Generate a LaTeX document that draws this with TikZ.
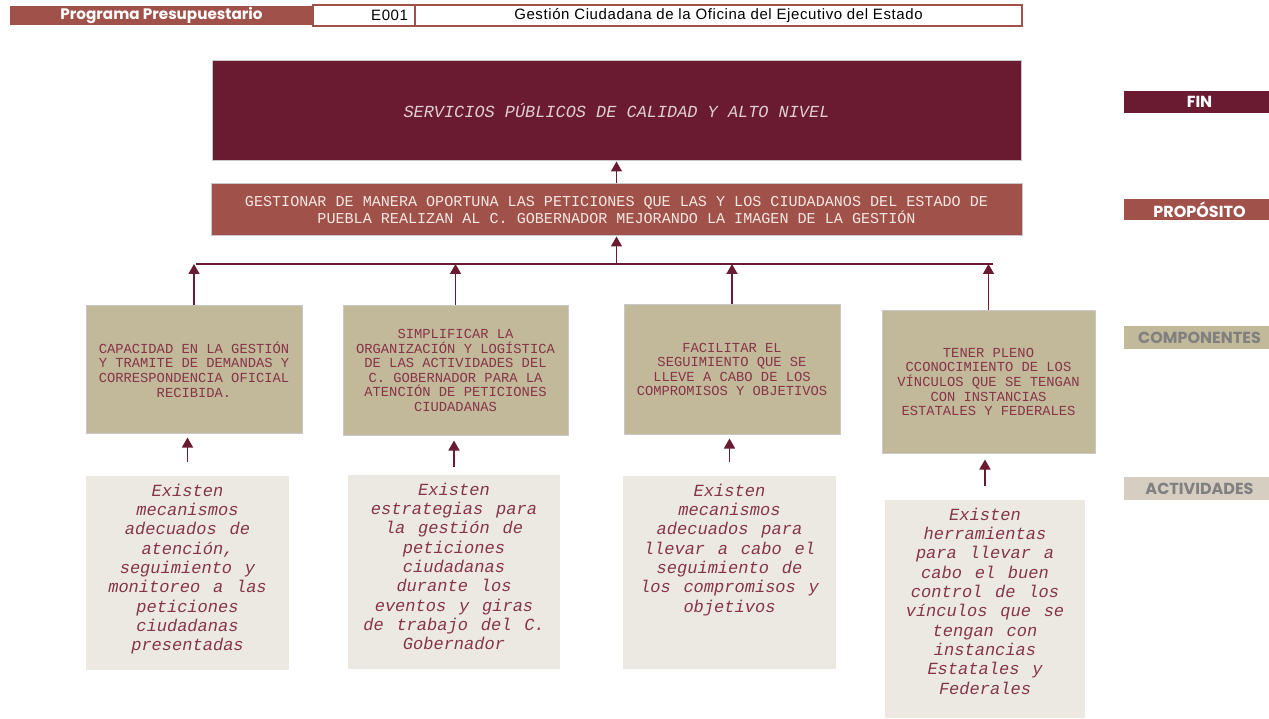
\documentclass[tikz,border=0pt]{standalone}
\usepackage{fontspec}
\setmainfont{Liberation Sans}
\newfontfamily\boxfont{Liberation Mono}
\newfontfamily\actfont[WordSpace=1.25,Scale=1.002]{Liberation Mono}
\newfontfamily\labfont{Poppins}
\newfontfamily\headfont[LetterSpace=4]{Liberation Sans}
\usetikzlibrary{arrows.meta,positioning}
\definecolor{vino}{RGB}{106,27,50}
\definecolor{ladrillo}{RGB}{160,82,74}
\definecolor{arena}{RGB}{194,185,154}
\definecolor{hueso}{RGB}{236,233,227}
\definecolor{huesoosc}{RGB}{213,206,193}
\definecolor{textovino}{RGB}{134,52,72}
\definecolor{rosaclaro}{RGB}{222,205,210}
\definecolor{crema}{RGB}{245,232,228}
\definecolor{borde}{RGB}{200,200,204}
\definecolor{grislab}{RGB}{128,128,128}
\begin{document}
\begin{tikzpicture}[x=1pt,y=-1pt,
		caja/.style={draw=borde,line width=1pt,align=center,inner sep=0pt},
		fin/.style={caja,fill=vino,text=rosaclaro,minimum width=809,minimum height=100,
				font=\boxfont\itshape\fontsize{16.9}{18}\selectfont},
		proposito/.style={caja,fill=ladrillo,text=crema,minimum width=811,minimum height=52,
				font=\boxfont\fontsize{15.1}{17}\selectfont},
		comp/.style={caja,fill=arena,text=textovino,font=\boxfont\fontsize{13.8}{14.6}\selectfont},
		act/.style={draw=none,fill=hueso,inner sep=0pt},
		acttxt/.style={align=center,inner sep=0pt,text=textovino,
				font=\actfont\itshape\fontsize{17}{19.3}\selectfont},
		lab/.style={minimum width=145,inner sep=0pt,font=\labfont\bfseries\fontsize{16}{16}\selectfont},
		arr/.style={vino,line width=1.5pt,-{Triangle[width=11pt,length=10pt]}},
		encab/.style={inner sep=0pt,minimum height=21,font=\headfont\fontsize{15}{16}\selectfont}
	]
	\useasboundingbox (0,0) rectangle (1269,719);
	% encabezado
	\node[encab,fill=ladrillo,text=white,minimum width=303,minimum height=19,
		font=\labfont\bfseries\fontsize{15.2}{16}\selectfont] (prog) at (161.5,15.5) {Programa Presupuestario};
	\node[encab,draw=ladrillo,line width=1.2pt,minimum width=102,text width=88,align=right] (clave) at (364,15.5) {E001};
	\node[encab,draw=ladrillo,line width=1.2pt,minimum width=607] (nombre) at (718.5,15.5) {Gestión Ciudadana de la Oficina del Ejecutivo del Estado};

	% fin y proposito
	\node[fin] (fin) at (616.5,111) {SERVICIOS PÚBLICOS DE CALIDAD Y ALTO NIVEL};
	\node[proposito] (prop) at (616.5,210) {GESTIONAR DE MANERA OPORTUNA LAS PETICIONES QUE LAS Y LOS CIUDADANOS DEL ESTADO DE\\
		PUEBLA REALIZAN AL C. GOBERNADOR MEJORANDO LA IMAGEN DE LA GESTIÓN};
	\coordinate (busL) at (196,264);
	\coordinate (busR) at (993,264);

	% componentes
	\node[comp,minimum width=216,minimum height=127] (c1) at (194,369.5)
	{CAPACIDAD EN LA GESTIÓN\\Y TRAMITE DE DEMANDAS Y\\CORRESPONDENCIA OFICIAL\\RECIBIDA.};
	\node[comp,minimum width=225,minimum height=129] (c2) at (455.5,370.5)
	{SIMPLIFICAR LA\\ORGANIZACIÓN Y LOGÍSTICA\\DE LAS ACTIVIDADES DEL\\C. GOBERNADOR PARA LA\\ATENCIÓN DE PETICIONES\\CIUDADANAS};
	\node[comp,minimum width=216,minimum height=129] (c3) at (732,369.5)
	{FACILITAR EL\\SEGUIMIENTO QUE SE\\LLEVE A CABO DE LOS\\COMPROMISOS Y OBJETIVOS};
	\node[comp,minimum width=213,minimum height=142] (c4) at (988.5,382)
	{TENER PLENO\\CCONOCIMIENTO DE LOS\\VÍNCULOS QUE SE TENGAN\\CON INSTANCIAS\\ESTATALES Y FEDERALES};

	% actividades
	\node[act,minimum width=203,minimum height=194] (a1) at (187.5,573) {};
	\node[act,minimum width=212,minimum height=194] (a2) at (454,572) {};
	\node[act,minimum width=213,minimum height=193] (a3) at (729.5,572.5) {};
	\node[act,minimum width=200,minimum height=218] (a4) at (985,609) {};
	\node[acttxt,below=8pt of a1.north] (t1) {Existen\\mecanismos\\adecuados de\\atención,\\seguimiento y\\monitoreo a las\\peticiones\\ciudadanas\\presentadas};
	\node[acttxt,below=8pt of a2.north] (t2) {Existen\\estrategias para\\la gestión de\\peticiones\\ciudadanas\\durante los\\eventos y giras\\de trabajo del C.\\Gobernador};
	\node[acttxt,below=8pt of a3.north] (t3) {Existen\\mecanismos\\adecuados para\\llevar a cabo el\\seguimiento de\\los compromisos y\\objetivos};
	\node[acttxt,below=8pt of a4.north] (t4) {Existen\\herramientas\\para llevar a\\cabo el buen\\control de los\\vínculos que se\\tengan con\\instancias\\Estatales y\\Federales};

	% etiquetas
	\node[lab,fill=vino,text=white,minimum height=22] (lfin) at (1196.5,102) {\hspace*{6pt}FIN};
	\node[lab,fill=ladrillo,text=white,minimum height=21] (lprop) at (1196.5,209.5) {\hspace*{6pt}PROPÓSITO};
	\node[lab,fill=arena,text=grislab,minimum height=23] (lcomp) at (1196.5,337.5) {\hspace*{6pt}COMPONENTES};
	\node[lab,fill=huesoosc,text=grislab,minimum height=23] (lact) at (1196.5,488.5) {\hspace*{6pt}ACTIVIDADES};

	% conectores
	\draw[arr] (prop) -- (fin);
	\draw[vino,line width=1.5pt] (busL) -- (busR);
	\draw[arr] (prop.south |- busL) -- (prop.south);
	\foreach \c in {c1,c2,c3,c4}
	\draw[arr] (\c.north) -- (\c.north |- busL);
	\draw[arr,shorten <=14pt,shorten >=4pt] (a1.north) -- (a1.north |- c1.south);
	\draw[arr,shorten <=8pt,shorten >=5pt] (a2.north) -- (a2.north |- c2.south);
	\draw[arr,shorten <=14pt,shorten >=4pt] (a3.north) -- (a3.north |- c3.south);
	\draw[arr,shorten <=14pt,shorten >=6pt] (a4.north) -- (a4.north |- c4.south);
\end{tikzpicture}
\end{document}
